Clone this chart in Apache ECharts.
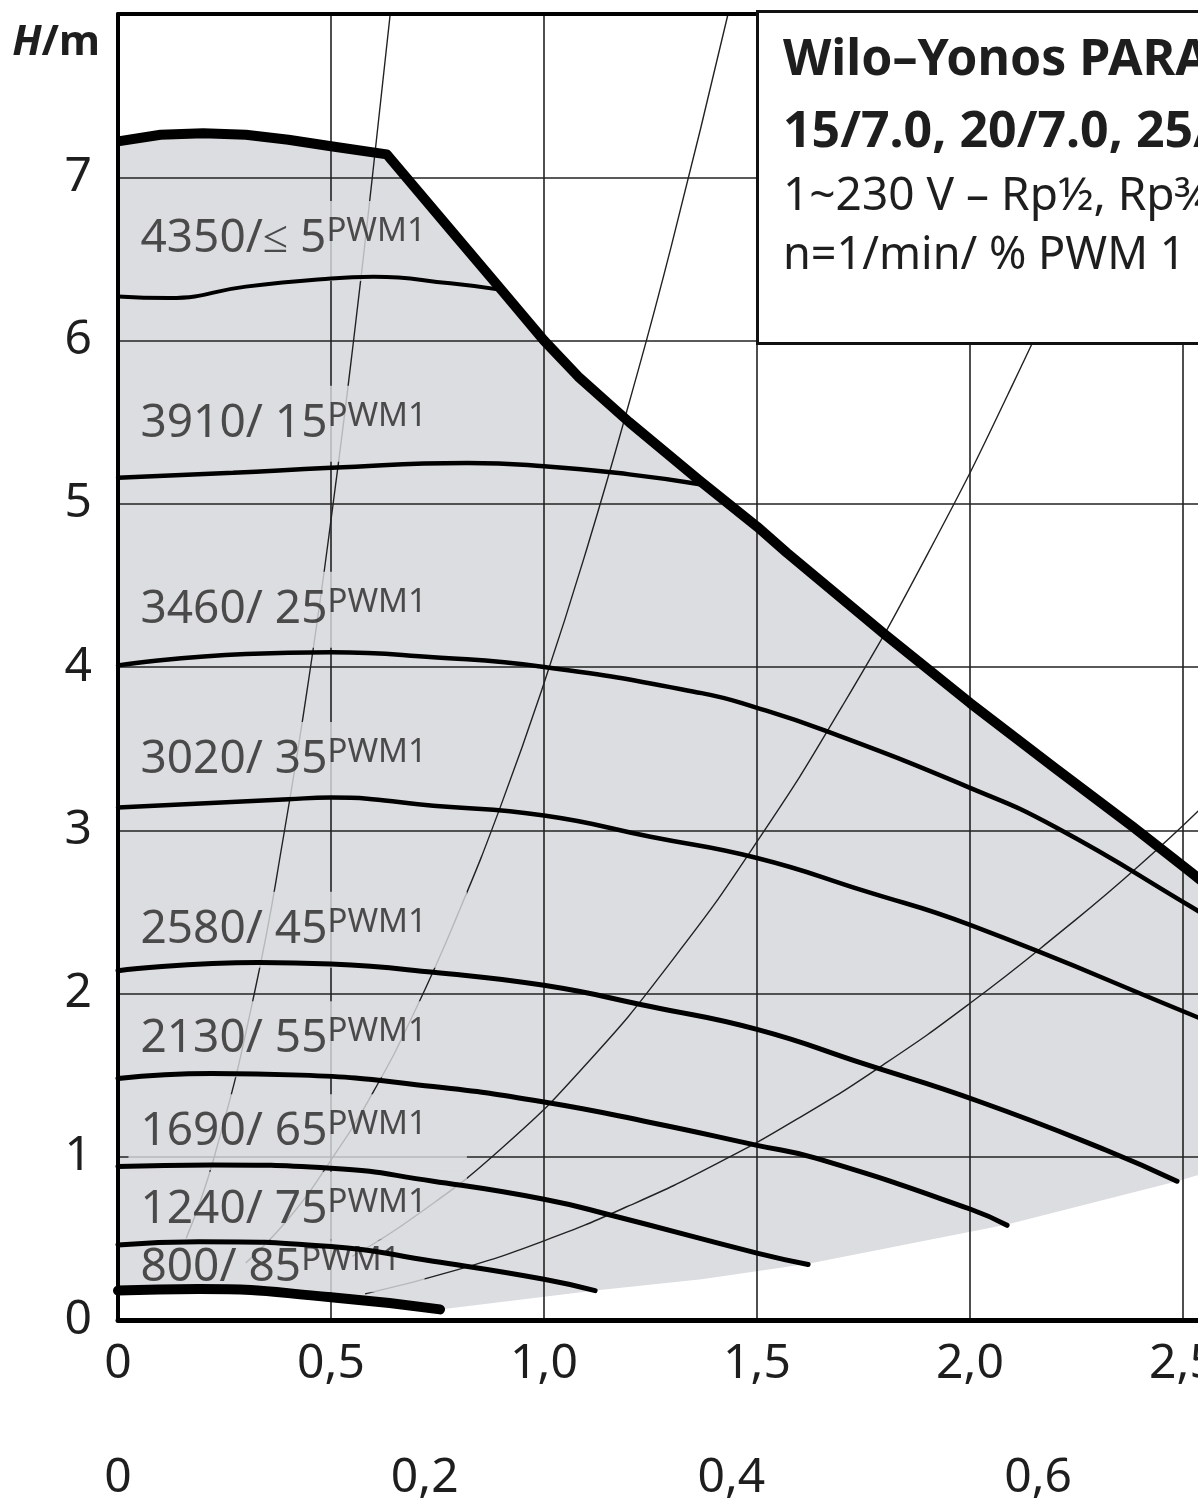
<!DOCTYPE html>
<html><head><meta charset="utf-8">
<script src="https://cdn.jsdelivr.net/npm/echarts@6/dist/echarts.min.js"></script>
<style>html,body{margin:0;padding:0;background:#fff;overflow:hidden}#c{width:1420px;height:1504px}</style>
</head><body><div id="c"></div>
<script>
// ---- data (Q in m³/h, H in m) ----
const maxCurve = [[0,7.22],[0.1,7.26],[0.2,7.27],[0.3,7.26],[0.4,7.23],[0.5,7.19],[0.631,7.14],[0.78,6.68],[0.9,6.31],[1.0,6.0],[1.08,5.78],[1.2,5.5],[1.366,5.14],[1.5,4.86],[1.57,4.7],[1.8,4.2],[2.0,3.78],[2.2,3.38],[2.383,3.02],[2.52,2.74],[2.7,2.36]];
const pwm4350 = [[0,6.27],[0.12,6.26],[0.3,6.33],[0.5,6.38],[0.6,6.39],[0.78,6.35],[0.9,6.31]];
const pwm3910 = [[0,5.16],[0.27,5.19],[0.5,5.22],[0.82,5.25],[1.0,5.23],[1.2,5.18],[1.366,5.12]];
const pwm3460 = [[0,4.01],[0.3,4.08],[0.5,4.09],[0.74,4.06],[1.0,4.0],[1.37,3.84],[1.5,3.75],[1.66,3.61],[2.0,3.26],[2.2,3.02],[2.52,2.53],[2.6,2.4]];
const pwm3020 = [[0,3.14],[0.4,3.19],[0.5,3.2],[0.74,3.15],[1.0,3.09],[1.25,2.96],[1.5,2.83],[1.75,2.63],[2.0,2.42],[2.52,1.87],[2.6,1.78]];
const pwm2580 = [[0,2.14],[0.33,2.19],[0.5,2.18],[0.74,2.13],[1.0,2.05],[1.25,1.92],[1.5,1.78],[1.75,1.57],[2.02,1.34],[2.32,1.04],[2.486,0.85]];
const pwm2130 = [[0,1.48],[0.22,1.51],[0.43,1.5],[0.74,1.43],[1.0,1.335],[1.25,1.21],[1.5,1.07],[1.64,0.99],[2.0,0.68],[2.087,0.58]];
const pwm1690 = [[0,0.94],[0.22,0.95],[0.5,0.93],[0.74,0.85],[1.0,0.74],[1.16,0.64],[1.5,0.41],[1.62,0.34]];
const pwm1240 = [[0,0.46],[0.19,0.48],[0.5,0.45],[0.74,0.36],[1.0,0.25],[1.12,0.18]];
const pwm800  = [[0,0.18],[0.19,0.19],[0.5,0.14],[0.756,0.065]];
const lowerBound = [[0.756,0.065],[1.12,0.18],[1.37,0.25],[1.62,0.345],[2.087,0.585],[2.486,0.85],[2.538,0.89],[2.7,0.99]];
// thin system curves
const sysA = [[0.16,0.5],[0.226,1.0],[0.32,2.0],[0.391,3.0],[0.452,4.0],[0.505,5.0],[0.553,6.0],[0.597,7.0],[0.639,8.0]];
const sysB = [[0.3,0.35],[0.4,0.62],[0.5,0.98],[0.6,1.4],[0.7,1.91],[0.8,2.5],[0.9,3.16],[1.0,3.9],[1.1,4.72],[1.2,5.62],[1.3,6.59],[1.432,8.0]];
const sysC = [[0.55,0.39],[0.7,0.64],[0.9,1.05],[1.1,1.57],[1.3,2.2],[1.5,2.93],[1.7,3.76],[1.9,4.69],[2.1,5.73],[2.3,6.88],[2.48,8.0]];
const sysD = [[0.58,0.16],[0.8,0.31],[1.0,0.485],[1.2,0.7],[1.4,0.95],[1.6,1.24],[1.8,1.57],[2.0,1.94],[2.2,2.35],[2.4,2.79],[2.6,3.28],[2.7,3.54]];
// labels
const labelMain = ['4350/≤ 5','3910/ 15','3460/ 25','3020/ 35','2580/ 45','2130/ 55','1690/ 65','1240/ 75','800/ 85'];
const labelSup = 'PWM1';
const labelH = [6.61,5.49,4.35,3.43,2.39,1.72,1.15,0.70,0.33];
const titleLines = ['Wilo–Yonos PARA','15/7.0, 20/7.0, 25/7.0, 30/7.0','1~230 V – Rp½, Rp¾, Rp1','n=1/min/ % PWM 1'];

const FONT = 'Noto Sans';
const FILL = '#dcdde0';
const INK = '#1e1e1e';
const fillPolygon = maxCurve.concat(lowerBound.slice().reverse(), pwm800.slice().reverse());
const comma = v => v === 0 ? '0' : v.toFixed(1).replace('.', ',');

function curve(data, w, z) {
  return {type:'line', data:data, smooth:true, showSymbol:false, silent:true, z:z||5,
    lineStyle:{color:'#000', width:w, cap:'round'}};
}
function sys(data) {
  return {type:'line', data:data, smooth:true, showSymbol:false, silent:true, z:2,
    lineStyle:{color:'#222', width:1.4}};
}
const labelData = labelH.map((h,i) => {
  const item = {value:[0,h], label:{formatter:'{a|' + labelMain[i] + '}{b|' + labelSup + '}'}};
  if (i === 0) item.label.padding = [14,2,18,12];
  if (i === 7) item.label.padding = [14,40,6,12];
  if (i === 8) item.label.padding = [4,24,0,12];
  return item;
});

const chart = echarts.init(document.getElementById('c'), null, {renderer:'canvas'});
chart.setOption({
  animation:false,
  backgroundColor:'#fff',
  textStyle:{fontFamily:FONT},
  title:{
    left:757, top:0, z:10, backgroundColor:'#fff', borderColor:'#111', borderWidth:3,
    padding:[25,40,65,26],
    text:'{a|' + titleLines[0] + '}\n{a|' + titleLines[1] + '}\n{b|' + titleLines[2] + '}\n{c|' + titleLines[3] + '}',
    textStyle:{fontWeight:'normal', rich:{
      a:{fontSize:50, fontWeight:'bold', lineHeight:72, color:INK, fontFamily:FONT},
      b:{fontSize:46, fontWeight:'normal', lineHeight:56, color:INK, fontFamily:FONT},
      c:{fontSize:45, fontWeight:'normal', lineHeight:62, color:INK, fontFamily:FONT}
    }}
  },
  grid:{left:118, top:14, width:1278, height:1306, outerBoundsMode:'none', containLabel:false},
  xAxis:[
    {type:'value', min:0, max:3.0, interval:0.5, position:'bottom', z:3,
     axisLine:{show:true, lineStyle:{color:'#000', width:5}}, axisTick:{show:false},
     splitLine:{show:true, lineStyle:{color:'#222', width:1.6}},
     axisLabel:{formatter:comma, fontSize:48, color:INK, margin:20, fontFamily:FONT}},
    {type:'value', min:0, max:3.0/3.6, interval:0.2, position:'bottom', offset:114, z:3,
     axisLine:{show:false}, axisTick:{show:false}, splitLine:{show:false},
     axisLabel:{formatter:comma, fontSize:48, color:INK, margin:20, fontFamily:FONT, showMaxLabel:false}},
    {type:'value', min:0, max:3.0, position:'top', z:3,
     axisLine:{show:true, lineStyle:{color:'#000', width:4}}, axisTick:{show:false},
     splitLine:{show:false}, axisLabel:{show:false}}
  ],
  yAxis:{type:'value', min:0, max:8, interval:1, z:3,
    name:'{h|H}{m|/m}', nameLocation:'end', nameGap:-8,
    nameTextStyle:{align:'right', verticalAlign:'top', padding:[0,18,0,0],
      rich:{h:{fontSize:42, fontWeight:'bold', fontStyle:'italic', color:INK, fontFamily:FONT},
            m:{fontSize:42, fontWeight:'bold', color:INK, fontFamily:FONT}}},
    axisLine:{show:true, lineStyle:{color:'#000', width:4}}, axisTick:{show:false},
    splitLine:{show:true, lineStyle:{color:'#222', width:1.6}},
    axisLabel:{formatter:v => v === 8 ? '' : String(v), fontSize:48, color:INK, margin:26, fontFamily:FONT}},
  series:[
    {type:'custom', z:1, silent:true, data:fillPolygon, encode:{x:0, y:1},
     renderItem:(params, api) => {
       if (params.dataIndex !== 0) return null;
       return {type:'polygon', shape:{points:fillPolygon.map(p => api.coord(p))}, style:{fill:FILL}};
     }},
    sys(sysA), sys(sysB), sys(sysC), sys(sysD),
    {type:'scatter', z:4, silent:true, symbolSize:1, itemStyle:{color:'rgba(0,0,0,0)'},
     data:labelData,
     label:{show:true, position:'right', distance:10, backgroundColor:FILL, padding:[14,40,14,12],
       rich:{a:{fontSize:46, lineHeight:48, color:'#262626', fontFamily:FONT},
             b:{fontSize:33, lineHeight:33, color:'#262626', fontFamily:FONT, verticalAlign:'top'}}}},
    curve(pwm4350, 4), curve(pwm3910, 4.5), curve(pwm3460, 4.5), curve(pwm3020, 4.5),
    curve(pwm2580, 5), curve(pwm2130, 5), curve(pwm1690, 5), curve(pwm1240, 5),
    curve(pwm800, 10),
    {type:'line', data:maxCurve, smooth:false, showSymbol:false, silent:true, z:6,
     lineStyle:{color:'#000', width:10, join:'round'}}
  ]
});
</script></body></html>
